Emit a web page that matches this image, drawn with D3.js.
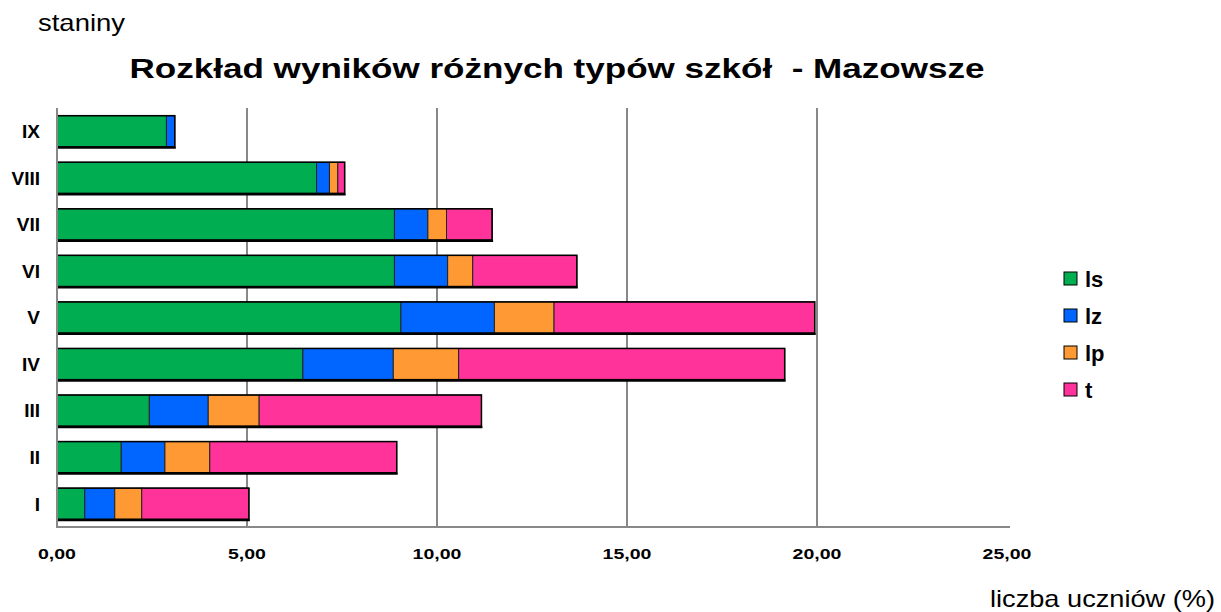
<!DOCTYPE html>
<html lang="pl">
<head>
<meta charset="UTF-8">
<title>Rozkład wyników różnych typów szkół - Mazowsze</title>
<script src="https://d3js.org/d3.v7.min.js"></script>
<style>
  body, html { margin: 0; padding: 0; background: #fff; overflow: hidden; }
  svg { display: block; }
</style>
</head>
<body>
<script>
// staniny from top to bottom as drawn
const staniny = ["IX", "VIII", "VII", "VI", "V", "IV", "III", "II", "I"];
const seriesNames = ["ls", "lz", "lp", "t"];

// percent of students per school type
const ls = [2.88, 6.83, 8.88, 8.88, 9.05, 6.47, 2.43, 1.69, 0.73];
const lz = [0.22, 0.34, 0.88, 1.40, 2.46, 2.38, 1.55, 1.15, 0.79];
const lp = [0.00, 0.22, 0.49, 0.66, 1.57, 1.72, 1.34, 1.18, 0.71];
const t  = [0.00, 0.18, 1.20, 2.74, 6.86, 8.58, 5.85, 4.92, 2.82];

const xTicks = [0, 5, 10, 15, 20, 25];
const colors = ["#00ad50", "#0066ff", "#ff9933", "#ff3399"];

const width = 1221, height = 612;
const margin = { top: 108, right: 214, bottom: 85, left: 57 };

const svg = d3.select("body").append("svg")
  .attr("width", width)
  .attr("height", height);

const rows = staniny.map((s, i) => ({ s, ls: ls[i], lz: lz[i], lp: lp[i], t: t[i] }));
const stacked = d3.stack().keys(seriesNames)(rows);

const x = d3.scaleLinear().domain([0, 25]).range([margin.left, width - margin.right]);
const y = d3.scaleBand().domain(staniny)
  .range([margin.top, height - margin.bottom])
  .paddingInner(0.33).paddingOuter(0.165);

const font = "'Liberation Sans', Arial, sans-serif";

// the original text is drawn wider than normal, stretch it a bit
function stretch(sel, k) {
  sel.each(function () {
    const w = this.getComputedTextLength();
    d3.select(this).attr("textLength", w * k).attr("lengthAdjust", "spacingAndGlyphs");
  });
}

// grid lines
svg.append("g").selectAll("line")
  .data(xTicks.filter(d => d < 25))
  .join("line")
  .attr("x1", d => x(d)).attr("x2", d => x(d))
  .attr("y1", margin.top).attr("y2", height - margin.bottom)
  .attr("stroke", "#888").attr("stroke-width", 2);

// bottom axis line
svg.append("line")
  .attr("x1", x(0) - 1).attr("x2", x(25) + 3)
  .attr("y1", height - margin.bottom).attr("y2", height - margin.bottom)
  .attr("stroke", "#888").attr("stroke-width", 2);

// bars
svg.append("g").selectAll("g")
  .data(stacked)
  .join("g")
  .attr("fill", (d, i) => colors[i])
  .selectAll("rect")
  .data(d => d)
  .join("rect")
  .attr("x", d => x(d[0]))
  .attr("y", d => y(d.data.s))
  .attr("width", d => x(d[1]) - x(d[0]))
  .attr("height", y.bandwidth())
  .attr("stroke", "#222")
  .attr("stroke-width", d => (d[1] - d[0]) > 0 ? 1 : 0);

// bar outlines
svg.append("g").selectAll("rect")
  .data(rows)
  .join("rect")
  .attr("x", x(0))
  .attr("y", d => y(d.s))
  .attr("width", d => x(d.ls + d.lz + d.lp + d.t) - x(0))
  .attr("height", y.bandwidth())
  .attr("fill", "none")
  .attr("stroke", "#000")
  .attr("stroke-width", 1.5);

// bottom shadow of each bar
svg.append("g").selectAll("line")
  .data(rows)
  .join("line")
  .attr("x1", x(0))
  .attr("x2", d => x(d.ls + d.lz + d.lp + d.t) + 1)
  .attr("y1", d => y(d.s) + y.bandwidth() + 1)
  .attr("y2", d => y(d.s) + y.bandwidth() + 1)
  .attr("stroke", "#000").attr("stroke-width", 2);

// left axis line drawn over bars
svg.append("line")
  .attr("x1", x(0)).attr("x2", x(0))
  .attr("y1", margin.top).attr("y2", height - margin.bottom + 1)
  .attr("stroke", "#888").attr("stroke-width", 2);

// x tick labels
svg.append("g").selectAll("text")
  .data(xTicks)
  .join("text")
  .attr("x", d => x(d))
  .attr("y", 559)
  .attr("text-anchor", "middle")
  .attr("font-family", font)
  .attr("font-weight", "bold")
  .attr("font-size", 15)
  .text(d => d3.format(".2f")(d).replace(".", ","))
  .call(stretch, 1.3);

// y category labels
svg.append("g").selectAll("text")
  .data(staniny)
  .join("text")
  .attr("x", 40)
  .attr("y", d => y(d) + y.bandwidth() / 2)
  .attr("dy", "0.36em")
  .attr("text-anchor", "end")
  .attr("font-family", font)
  .attr("font-weight", "bold")
  .attr("font-size", 19)
  .text(d => d);

// title
const title = svg.append("text")
  .attr("x", 557).attr("y", 78)
  .attr("text-anchor", "middle")
  .attr("font-family", font)
  .attr("font-weight", "bold")
  .attr("font-size", 27)
  .attr("xml:space", "preserve")
  .text("Rozkład wyników różnych typów szkół  - Mazowsze");
title.attr("textLength", 855).attr("lengthAdjust", "spacingAndGlyphs");

// axis titles
svg.append("text")
  .attr("x", 38).attr("y", 31)
  .attr("font-family", font)
  .attr("font-size", 24)
  .attr("textLength", 87).attr("lengthAdjust", "spacingAndGlyphs")
  .text("staniny");

svg.append("text")
  .attr("x", 990).attr("y", 607)
  .attr("font-family", font)
  .attr("font-size", 24)
  .attr("textLength", 225).attr("lengthAdjust", "spacingAndGlyphs")
  .text("liczba uczniów (%)");

// legend
const legend = svg.append("g").selectAll("g")
  .data(seriesNames)
  .join("g")
  .attr("transform", (d, i) => `translate(1064, ${272 + i * 37})`);

legend.append("rect")
  .attr("width", 13).attr("height", 13)
  .attr("fill", (d, i) => colors[i])
  .attr("stroke", "#000").attr("stroke-width", 1);

legend.append("text")
  .attr("x", 21).attr("y", 7)
  .attr("dy", "0.36em")
  .attr("font-family", font)
  .attr("font-weight", "bold")
  .attr("font-size", 22)
  .text(d => d);
</script>
</body>
</html>
